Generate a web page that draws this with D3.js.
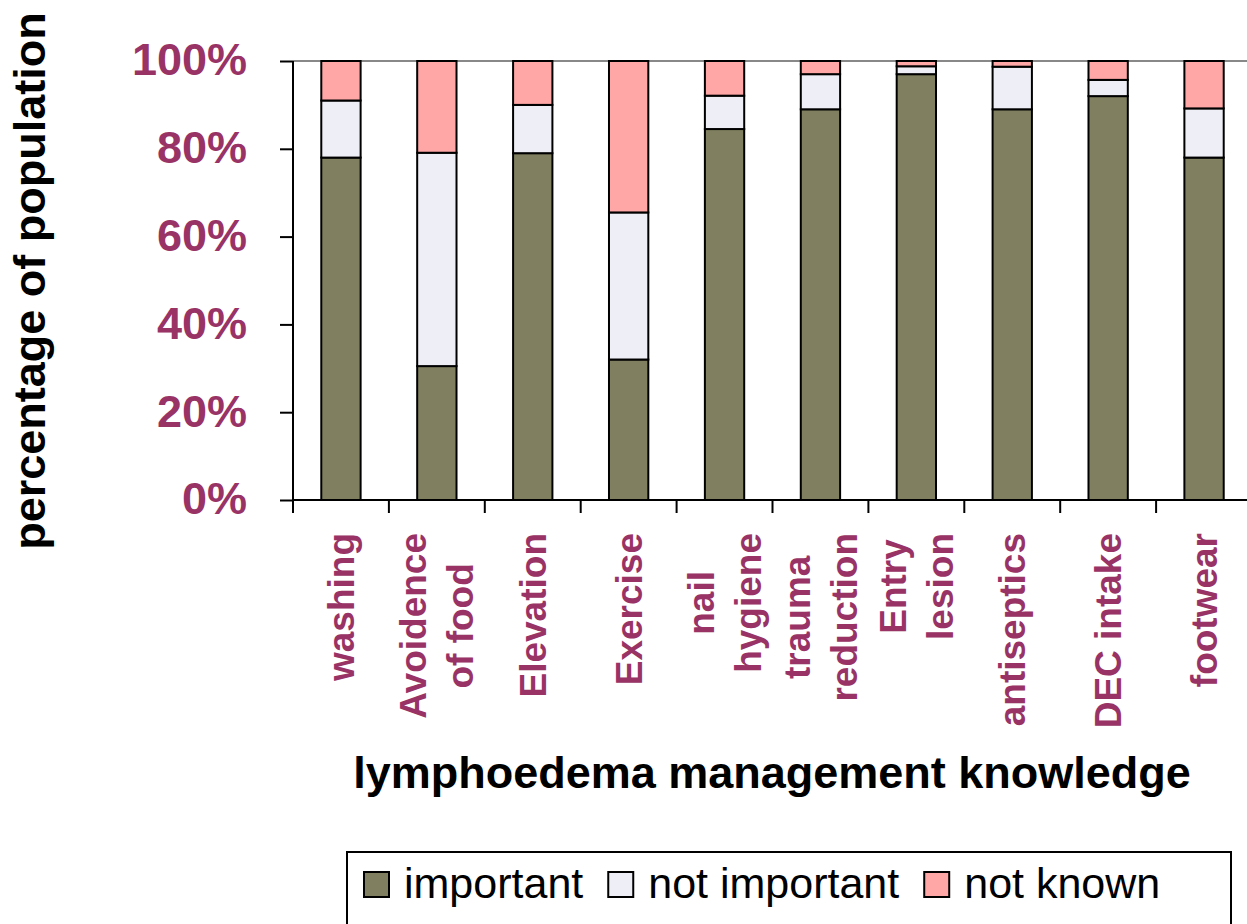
<!DOCTYPE html>
<html>
<head>
<meta charset="utf-8">
<script src="https://cdn.jsdelivr.net/npm/d3@7"></script>
<style>
  body { margin: 0; background: #fff; }
  svg { display: block; font-family: "Liberation Sans", Arial, sans-serif; }
</style>
</head>
<body>
<svg id="chart" width="1247" height="924"></svg>
<script>
// categories (\n = line break in the rotated label)
var categories = ['washing', 'Avoidence\nof food', 'Elevation', 'Exercise', 'nail\nhygiene',
                  'trauma\nreduction', 'Entry\nlesion', 'antiseptics', 'DEC intake', 'footwear'];
var seriesNames = ['important', 'not important', 'not known'];
var important    = [78, 30.5, 79, 32, 84.5, 89, 97, 89, 92, 78];
var notImportant = [13, 48.6, 11, 33.5, 7.6, 8, 1.8, 9.7, 3.7, 11.2];
var notKnown     = [9, 20.9, 10, 34.5, 7.9, 3, 1.2, 1.3, 4.3, 10.8];
var yTicks = [0, 20, 40, 60, 80, 100];

function drawChart() {
    var colors = ['#808060', '#eeeef6', '#ffa6a6'];
    var labelColor = '#993366';

    var svg = d3.select('#chart');
    var plotLeft = 293, plotTop = 61, plotBottom = 500;

    // rows for the stack
    var rows = categories.map(function (c, i) {
        return { cat: c, 'important': important[i], 'not important': notImportant[i], 'not known': notKnown[i] };
    });
    var stacked = d3.stack().keys(seriesNames)(rows);

    var x = d3.scaleBand().domain(categories).range([plotLeft, plotLeft + 959])
        .paddingInner(0.59).paddingOuter(0.295);
    var y = d3.scaleLinear().domain([0, 100]).range([plotBottom, plotTop]);

    // top border (gray)
    svg.append('line').attr('x1', plotLeft).attr('x2', 1247).attr('y1', plotTop).attr('y2', plotTop)
        .attr('stroke', '#888').attr('stroke-width', 2);

    // bars
    svg.append('g').selectAll('g').data(stacked).enter().append('g')
        .attr('fill', function (d, i) { return colors[i]; })
        .selectAll('rect').data(function (d) { return d; }).enter().append('rect')
        .attr('x', function (d) { return x(d.data.cat); })
        .attr('width', x.bandwidth())
        .attr('y', function (d) { return y(d[1]); })
        .attr('height', function (d) { return y(d[0]) - y(d[1]); })
        .attr('stroke', '#000').attr('stroke-width', 2);

    // y axis
    var yAxis = d3.axisLeft(y).tickValues(yTicks).tickSize(13).tickPadding(33)
        .tickFormat(function (d) { return d + '%'; });
    var gy = svg.append('g').attr('transform', 'translate(' + plotLeft + ',0)').call(yAxis);
    gy.select('.domain').attr('stroke', '#000').attr('stroke-width', 2)
        .attr('d', 'M0,' + plotTop + 'V' + plotBottom);
    gy.selectAll('.tick line').attr('stroke', '#000').attr('stroke-width', 2);
    gy.selectAll('.tick text').attr('fill', labelColor).attr('font-size', 45).attr('font-weight', 'bold')
        .attr('font-family', '"Liberation Sans", Arial, sans-serif').attr('dy', '0.31em');

    // x axis line + ticks at band boundaries
    var gx = svg.append('g');
    gx.append('line').attr('x1', plotLeft).attr('x2', 1247).attr('y1', plotBottom).attr('y2', plotBottom)
        .attr('stroke', '#000').attr('stroke-width', 2);
    var step = x.step();
    var bounds = categories.map(function (c) { return x(c) - step * 0.295; });
    gx.selectAll('.xt').data(bounds).enter().append('line').attr('class', 'xt')
        .attr('x1', function (d) { return d; }).attr('x2', function (d) { return d; })
        .attr('y1', plotBottom).attr('y2', plotBottom + 13)
        .attr('stroke', '#000').attr('stroke-width', 2);

    // category labels, rotated, block top at y=533
    var lab = svg.append('g').selectAll('g').data(categories).enter().append('g')
        .attr('transform', function (d) { return 'translate(' + (x(d) + x.bandwidth() / 2) + ',533) rotate(-90)'; })
        .attr('fill', labelColor).attr('font-size', 37).attr('font-weight', 'bold');
    lab.each(function (d) {
        var g = d3.select(this);
        var lines = d.split('\n');
        var n = lines.length;
        var texts = lines.map(function (l, k) {
            return g.append('text').attr('text-anchor', 'middle')
                .attr('y', (k - (n - 1) / 2) * 47 + 13).text(l);
        });
        var maxLen = d3.max(texts, function (t) { return t.node().getComputedTextLength(); });
        texts.forEach(function (t) { t.attr('x', -maxLen / 2); });
    });

    // axis titles
    svg.append('text').attr('transform', 'translate(45,281) rotate(-90)')
        .attr('text-anchor', 'middle').attr('font-size', 45).attr('font-weight', 'bold')
        .text('percentage of population');
    svg.append('text').attr('x', 772).attr('y', 788)
        .attr('text-anchor', 'middle').attr('font-size', 45).attr('font-weight', 'bold')
        .text('lymphoedema management knowledge');

    // legend
    var leg = svg.append('g');
    leg.append('rect').attr('x', 347).attr('y', 852).attr('width', 884).attr('height', 100)
        .attr('fill', '#fff').attr('stroke', '#000').attr('stroke-width', 2);
    var lx = 364;
    seriesNames.forEach(function (s, i) {
        leg.append('rect').attr('x', lx).attr('y', 872).attr('width', 25).attr('height', 25)
            .attr('fill', colors[i]).attr('stroke', '#000').attr('stroke-width', 2);
        var t = leg.append('text').attr('x', lx + 40).attr('y', 898).attr('font-size', 43).text(s);
        lx += 40 + t.node().getComputedTextLength() + 25;
    });
}

drawChart();
</script>
</body>
</html>
